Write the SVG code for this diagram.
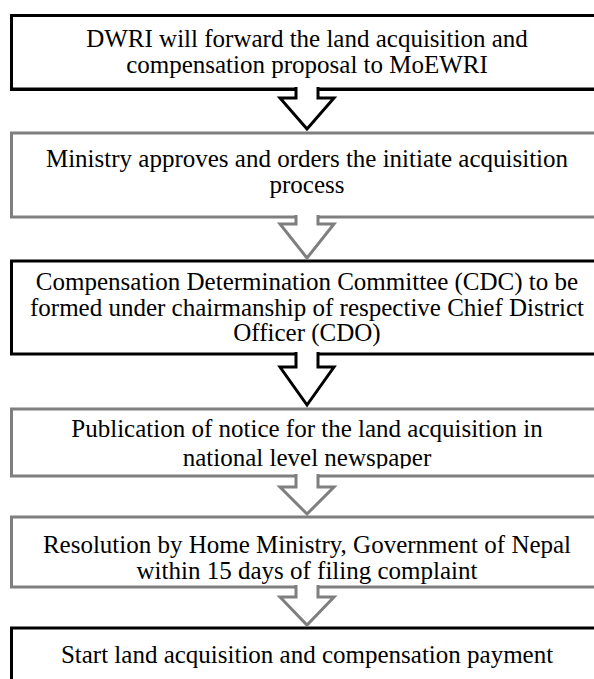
<svg xmlns="http://www.w3.org/2000/svg" width="594" height="679" viewBox="0 0 594 679">
<style>
  .box { fill: #ffffff; stroke-width: 3; }
  .dark { stroke: #000000; }
  .grey { stroke: #7f7f7f; }
  .arrow { fill: #ffffff; stroke-width: 3; stroke-linejoin: miter; }
  text { font-family: "Liberation Serif", "Times New Roman", serif; font-size: 25px; fill: #000000; text-anchor: middle; }
</style>
<defs>
  <clipPath id="clip4"><rect x="0" y="400" width="594" height="68.5"/></clipPath>
</defs>
<rect width="594" height="679" fill="#ffffff"/>
<g id="step1">
  <rect class="box dark" x="11.5" y="15.5" width="600" height="73.5"/>
  <line x1="10" y1="90" x2="600" y2="90" stroke="#000" stroke-width="2"/>
  <text x="307" y="47">DWRI will forward the land acquisition and</text>
  <text x="307" y="73">compensation proposal to MoEWRI</text>
</g>
<g id="step2">
  <rect class="box grey" x="11.5" y="133" width="600" height="84"/>
  <text x="307" y="167">Ministry approves and orders the initiate acquisition</text>
  <text x="307" y="193">process</text>
</g>
<g id="step3">
  <rect class="box dark" x="11.5" y="261" width="600" height="93"/>
  <text x="307" y="290">Compensation Determination Committee (CDC) to be</text>
  <text x="307" y="316">formed under chairmanship of respective Chief District</text>
  <text x="307" y="341">Officer (CDO)</text>
</g>
<g id="step4">
  <rect class="box grey" x="11.5" y="409" width="600" height="67"/>
  <g clip-path="url(#clip4)">
    <text x="307" y="437">Publication of notice for the land acquisition in</text>
    <text x="307" y="466">national level newspaper</text>
  </g>
</g>
<g id="step5">
  <rect class="box grey" x="11.5" y="517" width="600" height="70"/>
  <text x="307" y="553">Resolution by Home Ministry, Government of Nepal</text>
  <text x="307" y="579">within 15 days of filing complaint</text>
</g>
<g id="step6">
  <rect class="box dark" x="11.5" y="628" width="600" height="80"/>
  <text x="307" y="663">Start land acquisition and compensation payment</text>
</g>
<g id="connectors">
  <path class="arrow dark" d="M296 87 L296 98 L280 98 L307 129 L334 98 L318 98 L318 87"/>
  <path class="arrow grey" d="M296 215 L296 224 L280 224 L307 258 L334 224 L318 224 L318 215"/>
  <path class="arrow dark" d="M296 352 L296 367 L280 367 L307 405 L334 367 L318 367 L318 352"/>
  <path class="arrow grey" d="M296 474 L296 487 L280 487 L307 514 L334 487 L318 487 L318 474"/>
  <path class="arrow grey" d="M296 585 L296 597 L280 597 L307 625 L334 597 L318 597 L318 585"/>
</g>
</svg>
